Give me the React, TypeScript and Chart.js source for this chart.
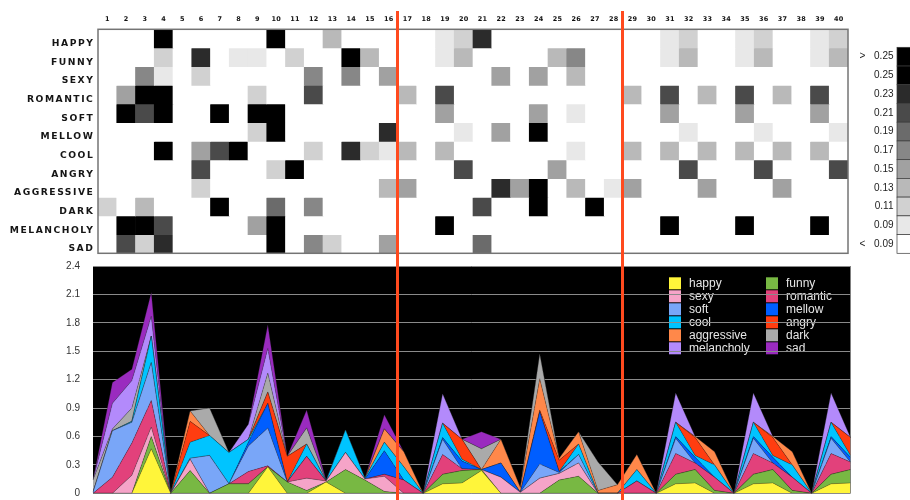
import React, { useEffect, useRef } from 'react';
import { Chart, registerables } from 'chart.js';

Chart.register(...registerables);

// ---------- categories ----------
const COLUMNS = ['1', '2', '3', '4', '5', '6', '7', '8', '9', '10', '11', '12', '13', '14', '15', '16', '17', '18', '19', '20',
  '21', '22', '23', '24', '25', '26', '27', '28', '29', '30', '31', '32', '33', '34', '35', '36', '37', '38', '39', '40'];
const MOODS = ['HAPPY', 'FUNNY', 'SEXY', 'ROMANTIC', 'SOFT', 'MELLOW', 'COOL', 'ANGRY', 'AGGRESSIVE', 'DARK', 'MELANCHOLY', 'SAD'];
const SPLIT_AFTER = [16, 28];

// ---------- heatmap values (top chart) ----------
const HEAT_HAPPY = [0, 0, 0, .30, 0, 0, 0, 0, 0, .30, 0, 0, .14, 0, 0, 0, 0, 0, .10, .12, .24, 0, 0, 0, 0, 0, 0, 0, 0, 0, .10, .12, 0, 0, .10, .12, 0, 0, .10, .12];
const HEAT_FUNNY = [0, 0, 0, .12, 0, .24, 0, .10, .10, 0, .12, 0, 0, .30, .14, 0, 0, 0, .10, .14, 0, 0, 0, 0, .14, .18, 0, 0, 0, 0, .10, .14, 0, 0, .10, .14, 0, 0, .10, .14];
const HEAT_SEXY = [0, 0, .18, .10, 0, .12, 0, 0, 0, 0, 0, .18, 0, .18, 0, .16, 0, 0, 0, 0, 0, .16, 0, .16, 0, .14, 0, 0, 0, 0, 0, 0, 0, 0, 0, 0, 0, 0, 0, 0];
const HEAT_ROMANTIC = [0, .16, .30, .30, 0, 0, 0, 0, .12, 0, 0, .22, 0, 0, 0, 0, .14, 0, .22, 0, 0, 0, 0, 0, 0, 0, 0, 0, .14, 0, .22, 0, .14, 0, .22, 0, .14, 0, .22, 0];
const HEAT_SOFT = [0, .30, .22, .30, 0, 0, .30, 0, .30, .30, 0, 0, 0, 0, 0, 0, 0, 0, .16, 0, 0, 0, 0, .16, 0, .10, 0, 0, 0, 0, .16, 0, 0, 0, .16, 0, 0, 0, .16, 0];
const HEAT_MELLOW = [0, 0, 0, 0, 0, 0, 0, 0, .12, .30, 0, 0, 0, 0, 0, .24, 0, 0, 0, .10, 0, .16, 0, .30, 0, 0, 0, 0, 0, 0, 0, .10, 0, 0, 0, .10, 0, 0, 0, .10];
const HEAT_COOL = [0, 0, 0, .30, 0, .16, .22, .30, 0, 0, 0, .12, 0, .24, .12, .10, .14, 0, .14, 0, 0, 0, 0, 0, 0, .10, 0, 0, .14, 0, .14, 0, .14, 0, .14, 0, .14, 0, .14, 0];
const HEAT_ANGRY = [0, 0, 0, 0, 0, .22, 0, 0, 0, .12, .30, 0, 0, 0, 0, 0, 0, 0, 0, .22, 0, 0, 0, 0, .16, 0, 0, 0, 0, 0, 0, .22, 0, 0, 0, .22, 0, 0, 0, .22];
const HEAT_AGGRESSIVE = [0, 0, 0, 0, 0, .12, 0, 0, 0, 0, 0, 0, 0, 0, 0, .14, .16, 0, 0, 0, 0, .24, .16, .30, 0, .14, 0, .10, .16, 0, 0, 0, .16, 0, 0, 0, .16, 0, 0, 0];
const HEAT_DARK = [.12, 0, .14, 0, 0, 0, .30, 0, 0, .20, 0, .18, 0, 0, 0, 0, 0, 0, 0, 0, .22, 0, 0, .30, 0, 0, .30, 0, 0, 0, 0, 0, 0, 0, 0, 0, 0, 0, 0, 0];
const HEAT_MELANCHOLY = [0, .30, .30, .22, 0, 0, 0, 0, .16, .30, 0, 0, 0, 0, 0, 0, 0, 0, .30, 0, 0, 0, 0, 0, 0, 0, 0, 0, 0, 0, .30, 0, 0, 0, .30, 0, 0, 0, .30, 0];
const HEAT_SAD = [0, .22, .12, .24, 0, 0, 0, 0, 0, .30, 0, .18, .12, 0, 0, .16, 0, 0, 0, 0, .20, 0, 0, 0, 0, 0, 0, 0, 0, 0, 0, 0, 0, 0, 0, 0, 0, 0, 0, 0];
const HEAT_ROWS = [HEAT_HAPPY, HEAT_FUNNY, HEAT_SEXY, HEAT_ROMANTIC, HEAT_SOFT, HEAT_MELLOW, HEAT_COOL, HEAT_ANGRY, HEAT_AGGRESSIVE, HEAT_DARK, HEAT_MELANCHOLY, HEAT_SAD];

// colour scale of the heatmap (low -> high)
const HEAT_THRESHOLDS = [0.09, 0.11, 0.13, 0.15, 0.17, 0.19, 0.21, 0.23, 0.25];
const HEAT_COLORS = ['#ffffff', '#e8e8e8', '#d1d1d1', '#b9b9b9', '#a1a1a1', '#878787', '#6b6b6b', '#4a4a4a', '#2b2b2b', '#000000'];
// colour bar (top -> bottom)
const BAR_PREFIX = ['>', '', '', '', '', '', '', '', '', '', '<'];
const BAR_LABELS = ['0.25', '0.25', '0.23', '0.21', '0.19', '0.17', '0.15', '0.13', '0.11', '0.09', '0.09'];
const BAR_COLORS = ['#000000', '#000000', '#2b2b2b', '#4a4a4a', '#6b6b6b', '#878787', '#a1a1a1', '#b9b9b9', '#d1d1d1', '#e8e8e8', '#ffffff'];

// ---------- stacked area values (bottom chart) ----------
const AREA_HAPPY = [0, 0, 0, .47, 0, 0, 0, 0, 0, .28, 0, 0, .12, 0, 0, 0, 0, 0, .10, .11, .24, 0, 0, 0, 0, 0, 0, 0, 0, 0, .10, .11, 0, 0, .10, .11, 0, 0, .10, .11];
const AREA_FUNNY = [0, 0, 0, .13, 0, .24, 0, .10, .10, 0, .12, .03, 0, .25, .14, .02, 0, 0, .10, .13, .01, 0, 0, 0, .14, .18, 0, 0, 0, 0, .10, .14, .03, 0, .10, .14, .03, 0, .10, .14];
const AREA_SEXY = [0, 0, .19, .10, 0, .12, 0, 0, 0, 0, 0, .13, .01, .18, .01, .16, 0, 0, 0, 0, 0, .17, .01, .16, .07, .14, 0, 0, 0, 0, 0, 0, 0, 0, 0, 0, 0, 0, 0, 0];
const AREA_ROMANTIC = [0, .17, .34, .28, 0, 0, 0, 0, .13, .01, 0, .23, 0, 0, 0, .02, .14, 0, .21, .02, 0, 0, 0, 0, 0, 0, 0, 0, .13, 0, .22, .07, .14, 0, .22, .07, .14, 0, .22, .08];
const AREA_SOFT = [.01, .49, .22, .40, 0, .01, .40, 0, .27, .40, 0, 0, 0, 0, 0, 0, 0, 0, .16, 0, 0, 0, 0, .15, .01, .09, 0, 0, 0, 0, .16, 0, 0, 0, .16, 0, 0, 0, .16, 0];
const AREA_MELLOW = [0, 0, 0, 0, 0, 0, 0, 0, .04, .26, 0, 0, 0, 0, 0, .25, 0, 0, .02, .08, 0, .15, 0, .55, .01, 0, 0, 0, 0, 0, .02, .06, 0, 0, .02, .06, 0, 0, .02, .05];
const AREA_COOL = [0, 0, .01, .28, 0, .17, .21, .33, .03, 0, 0, .13, 0, .24, .01, .09, .14, 0, .15, .02, 0, 0, 0, 0, 0, .11, 0, 0, .12, 0, .15, .02, .13, 0, .15, .02, .13, 0, .15, .02];
const AREA_ANGRY = [0, 0, 0, 0, 0, .22, 0, 0, 0, .12, .27, 0, 0, 0, 0, 0, 0, 0, 0, .21, 0, 0, 0, .02, .12, 0, 0, 0, 0, 0, 0, .19, 0, 0, 0, .19, 0, 0, 0, .19];
const AREA_AGGRESSIVE = [0, 0, 0, 0, 0, .11, 0, 0, 0, 0, 0, 0, 0, 0, 0, .14, .16, 0, 0, 0, 0, .25, .05, .33, .02, .13, .03, .09, .16, 0, 0, .01, .14, 0, 0, .01, .14, 0, 0, 0];
const AREA_DARK = [.13, .02, .14, 0, 0, 0, .29, 0, 0, .20, 0, .17, 0, 0, 0, 0, 0, 0, 0, 0, .22, 0, 0, .26, 0, 0, .30, 0, 0, 0, 0, 0, 0, 0, 0, 0, 0, 0, 0, 0];
const AREA_MELANCHOLY = [0, .27, .29, .21, 0, 0, 0, 0, .16, .26, 0, 0, 0, 0, 0, 0, 0, 0, .31, 0, 0, 0, 0, 0, 0, 0, 0, 0, 0, 0, .31, 0, 0, 0, .31, 0, 0, 0, .31, 0];
const AREA_SAD = [0, .22, .12, .25, 0, 0, 0, 0, 0, .25, 0, .19, .01, 0, 0, .15, 0, 0, 0, 0, .18, 0, 0, 0, 0, 0, 0, 0, 0, 0, 0, 0, 0, 0, 0, 0, 0, 0, 0, 0];

const SERIES_NAMES = ['happy', 'funny', 'sexy', 'romantic', 'soft', 'mellow', 'cool', 'angry', 'aggressive', 'dark', 'melancholy', 'sad'];
const SERIES_VALUES = [AREA_HAPPY, AREA_FUNNY, AREA_SEXY, AREA_ROMANTIC, AREA_SOFT, AREA_MELLOW, AREA_COOL, AREA_ANGRY, AREA_AGGRESSIVE, AREA_DARK, AREA_MELANCHOLY, AREA_SAD];
const SERIES_COLORS = ['#fff53a', '#78b843', '#f5a4c8', '#e2417b', '#79a6f8', '#005eff', '#00c4ff', '#ff3d10', '#ff884a', '#aaaaaa', '#b38afb', '#9a2bbf'];
const AREA_Y_TICKS = [0, 0.3, 0.6, 0.9, 1.2, 1.5, 1.8, 2.1, 2.4];

const RED = '#ff4a1e';

function heatColor(v: number): string {
  let i = 0;
  while (i < HEAT_THRESHOLDS.length && v >= HEAT_THRESHOLDS[i] - 1e-9) i++;
  return HEAT_COLORS[i];
}

const heatDecor = {
  id: 'heatDecor',
  afterDatasetsDraw(chart: any) {
    const { ctx, chartArea: a, scales } = chart;
    ctx.save();
    ctx.strokeStyle = '#747474';
    ctx.lineWidth = 1.5;
    ctx.strokeRect(a.left, a.top, a.right - a.left, a.bottom - a.top);

    // row labels
    const sx = 1.15;
    const sp = 1.3;
    ctx.fillStyle = '#151515';
    ctx.font = 'bold 8px "DejaVu Sans", sans-serif';
    ctx.textAlign = 'right';
    ctx.textBaseline = 'alphabetic';
    try { (ctx as any).letterSpacing = sp + 'px'; } catch (e) { /* ignore */ }
    MOODS.forEach((m, r) => {
      const y = scales.y.getPixelForValue(r + 0.5);
      ctx.save();
      ctx.translate(a.left - 5.2 + sp * sx, y + 7.4);
      ctx.scale(sx, 1);
      ctx.fillText(m, 0, 0);
      ctx.restore();
    });
    try { (ctx as any).letterSpacing = '0px'; } catch (e) { /* ignore */ }

    // colour bar
    const top = 47.3;
    const h = (a.bottom - top) / BAR_LABELS.length;
    const bx = 897;
    ctx.font = '10px "Liberation Sans", Arial, sans-serif';
    ctx.textBaseline = 'middle';
    BAR_LABELS.forEach((lab, i) => {
      const y = top + i * h;
      ctx.fillStyle = BAR_COLORS[i];
      ctx.fillRect(bx, y, 20, h);
      ctx.strokeStyle = '#3a3a3a';
      ctx.lineWidth = 0.7;
      ctx.strokeRect(bx, y, 20, h);
      ctx.fillStyle = '#222';
      ctx.textAlign = 'right';
      ctx.fillText(lab, 893.5, y + h / 2);
      if (BAR_PREFIX[i]) {
        ctx.textAlign = 'left';
        ctx.fillText(BAR_PREFIX[i], 859.5, y + h / 2);
      }
    });
    ctx.restore();
  },
  afterDraw(chart: any) {
    const { ctx, scales } = chart;
    ctx.save();
    ctx.strokeStyle = RED;
    ctx.lineWidth = 3;
    SPLIT_AFTER.forEach((c) => {
      const x = (scales.x.getPixelForValue(c - 1) + scales.x.getPixelForValue(c)) / 2 - 0.5;
      ctx.beginPath();
      ctx.moveTo(x, 11);
      ctx.lineTo(x, 500);
      ctx.stroke();
    });
    ctx.restore();
  },
};

const areaDecor = {
  id: 'areaDecor',
  beforeDraw(chart: any) {
    const { ctx, chartArea: a } = chart;
    ctx.save();
    ctx.fillStyle = '#000';
    ctx.fillRect(a.left, a.top, a.right - a.left, a.bottom - a.top);
    ctx.font = '12px "Liberation Sans", Arial, sans-serif';
    ctx.textBaseline = 'middle';
    ctx.textAlign = 'left';
    chart.data.datasets.forEach((ds: any, i: number) => {
      const col = i % 2;
      const row = Math.floor(i / 2);
      const x = a.left + 576 + col * 97;
      const y = a.top + 11.3 + row * 13;
      ctx.fillStyle = ds.backgroundColor;
      ctx.fillRect(x, y, 12, 12);
      ctx.fillStyle = '#e6e6e6';
      ctx.fillText(ds.label, x + 20, y + 6.5);
    });
    ctx.restore();
  },
};

export default function App() {
  const areaRef = useRef<HTMLCanvasElement>(null);
  const heatRef = useRef<HTMLCanvasElement>(null);

  useEffect(() => {
    const areaChart = new Chart(areaRef.current as HTMLCanvasElement, {
      type: 'line',
      data: {
        labels: COLUMNS,
        datasets: SERIES_NAMES.map((name, i) => ({
          label: name,
          data: SERIES_VALUES[i],
          backgroundColor: SERIES_COLORS[i],
          borderColor: 'rgba(30,30,30,0.45)',
          borderWidth: 0.6,
          fill: i === 0 ? 'origin' : '-1',
          pointRadius: 0,
          tension: 0,
        })),
      },
      options: {
        animation: false,
        responsive: false,
        events: [],
        layout: { padding: { left: 0, top: 266, right: 59.5, bottom: 6.7 } },
        plugins: { legend: { display: false }, tooltip: { enabled: false } },
        scales: {
          x: { type: 'category', display: false, offset: false },
          y: {
            stacked: true,
            min: 0,
            max: 2.4,
            afterFit: (s: any) => { s.width = 93; },
            afterBuildTicks: (s: any) => { s.ticks = AREA_Y_TICKS.map((v) => ({ value: v })); },
            grid: { color: '#8a8a8a', lineWidth: 1, drawTicks: true, tickLength: 13, tickColor: 'rgba(0,0,0,0)' },
            border: { display: false },
            ticks: {
              padding: 0,
              color: '#333',
              font: { size: 10, family: '"Liberation Sans", Arial, sans-serif' },
              callback: (v: any) => (Number(v) === 0 ? '0' : Number(v).toFixed(1)),
            },
          },
        },
      } as any,
      plugins: [areaDecor],
    });

    const heatChart = new Chart(heatRef.current as HTMLCanvasElement, {
      type: 'bar',
      data: {
        labels: COLUMNS,
        datasets: MOODS.map((m, r) => ({
          label: m,
          data: HEAT_ROWS[r].map(() => [r, r + 1]),
          backgroundColor: HEAT_ROWS[r].map(heatColor),
          borderWidth: 0,
          borderSkipped: false,
          grouped: false,
          barPercentage: 1,
          categoryPercentage: 1,
        })),
      },
      options: {
        animation: false,
        responsive: false,
        events: [],
        layout: { padding: { left: 98, right: 62, top: 9.3, bottom: 246.7 } },
        plugins: { legend: { display: false }, tooltip: { enabled: false } },
        scales: {
          x: {
            type: 'category',
            position: 'top',
            offset: true,
            afterFit: (s: any) => { s.height = 20; },
            grid: { display: false, drawTicks: false },
            border: { display: false },
            ticks: {
              autoSkip: false,
              maxRotation: 0,
              padding: 6,
              color: '#111',
              font: { size: 6.5, weight: 'bold', family: '"DejaVu Sans", sans-serif' },
            },
          },
          y: { type: 'linear', min: 0, max: 12, reverse: true, display: false },
        },
      } as any,
      plugins: [heatDecor],
    });

    return () => {
      areaChart.destroy();
      heatChart.destroy();
    };
  }, []);

  return (
    <div style={{ position: 'absolute', left: 0, top: 0, width: 910, height: 500, background: '#fff', overflow: 'hidden' }}>
      <canvas ref={areaRef} width={910} height={500} style={{ position: 'absolute', left: 0, top: 0, width: 910, height: 500 }} />
      <canvas ref={heatRef} width={910} height={500} style={{ position: 'absolute', left: 0, top: 0, width: 910, height: 500, pointerEvents: 'none' }} />
    </div>
  );
}
